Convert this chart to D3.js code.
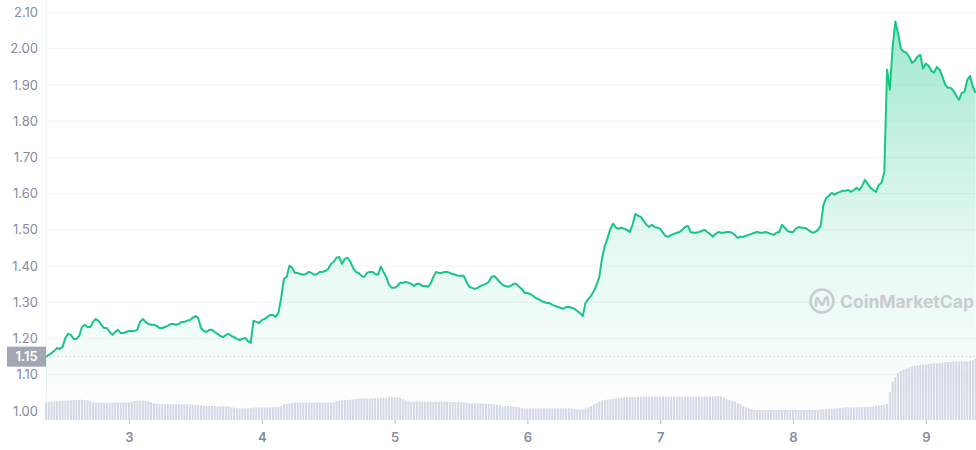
<!DOCTYPE html>
<html><head><meta charset="utf-8">
<script src="https://cdn.jsdelivr.net/npm/d3@7"></script>
<style>body{margin:0;background:#fff}svg{display:block;font-family:Inter,"Noto Sans",sans-serif}</style>
</head><body><svg id="c" width="976" height="450"></svg>
<script>
// ---- data ----
const startDay = 2.375;          // day-of-month of first sample
const stepDays = 0.5 / 24;       // 30-minute samples
const prices = [
1.149,1.155,1.160,1.166,1.174,1.171,1.177,1.202,1.213,1.210,
1.199,1.199,1.207,1.232,1.238,1.232,1.232,1.246,1.254,1.249,
1.238,1.229,1.229,1.218,1.210,1.218,1.224,1.215,1.215,1.218,
1.221,1.221,1.221,1.224,1.246,1.254,1.246,1.240,1.238,1.238,
1.235,1.229,1.229,1.232,1.235,1.240,1.240,1.238,1.240,1.246,
1.246,1.249,1.251,1.257,1.262,1.257,1.229,1.221,1.218,1.224,
1.224,1.218,1.213,1.207,1.204,1.210,1.213,1.207,1.204,1.199,
1.196,1.199,1.202,1.193,1.188,1.249,1.246,1.243,1.251,1.254,
1.260,1.265,1.265,1.260,1.271,1.312,1.365,1.370,1.401,1.395,
1.381,1.381,1.378,1.376,1.378,1.384,1.381,1.376,1.378,1.384,
1.384,1.387,1.392,1.406,1.412,1.423,1.425,1.406,1.420,1.423,
1.412,1.395,1.384,1.381,1.373,1.370,1.381,1.384,1.384,1.378,
1.376,1.398,1.384,1.370,1.348,1.340,1.340,1.345,1.354,1.354,
1.356,1.354,1.351,1.345,1.351,1.351,1.345,1.345,1.343,1.351,
1.370,1.384,1.381,1.381,1.384,1.384,1.381,1.378,1.376,1.373,
1.373,1.373,1.356,1.343,1.340,1.337,1.340,1.345,1.348,1.351,
1.356,1.370,1.373,1.365,1.356,1.348,1.345,1.343,1.345,1.351,
1.351,1.343,1.337,1.326,1.326,1.323,1.318,1.312,1.309,1.304,
1.301,1.298,1.298,1.293,1.290,1.287,1.285,1.282,1.287,1.287,
1.285,1.282,1.276,1.271,1.262,1.298,1.309,1.318,1.331,1.348,
1.370,1.423,1.456,1.478,1.503,1.517,1.506,1.503,1.506,1.503,
1.500,1.494,1.514,1.544,1.539,1.536,1.525,1.514,1.508,1.514,
1.508,1.506,1.503,1.492,1.483,1.481,1.486,1.489,1.492,1.494,
1.500,1.508,1.511,1.494,1.492,1.492,1.494,1.497,1.500,1.494,
1.489,1.481,1.489,1.494,1.492,1.492,1.494,1.494,1.492,1.486,
1.478,1.481,1.481,1.483,1.486,1.489,1.492,1.494,1.492,1.492,
1.494,1.492,1.489,1.486,1.492,1.494,1.514,1.506,1.497,1.494,
1.494,1.503,1.508,1.506,1.506,1.503,1.497,1.492,1.494,1.500,
1.511,1.569,1.588,1.594,1.602,1.597,1.602,1.605,1.608,1.608,
1.610,1.605,1.610,1.616,1.610,1.622,1.638,1.627,1.616,1.610,
1.605,1.624,1.630,1.660,1.942,1.887,2.003,2.075,2.041,2.000,
1.992,1.989,1.978,1.961,1.967,1.978,1.983,1.945,1.959,1.953,
1.939,1.934,1.950,1.942,1.923,1.901,1.892,1.892,1.884,1.870,
1.859,1.878,1.881,1.914,1.925,1.895,1.878
];
const volumes = [
53,54,55,56,56,57,58,58,59,59,
60,60,60,61,60,59,56,53,53,52,
52,52,51,52,52,52,52,51,52,52,
53,54,57,58,58,58,57,56,53,50,
49,48,48,47,48,48,47,47,47,47,
47,47,46,46,46,45,44,43,42,42,
42,42,41,41,41,41,40,38,37,36,
35,35,35,35,36,38,38,38,38,38,
38,38,38,39,39,42,47,48,50,51,
52,52,52,52,52,52,52,52,52,52,
52,52,52,52,53,56,58,59,60,60,
61,62,63,64,65,65,65,65,65,65,
65,66,66,67,68,68,68,68,67,63,
59,56,55,55,56,55,55,55,55,55,
54,55,55,55,55,55,54,54,54,54,
53,53,51,50,50,50,50,50,49,49,
48,48,47,45,44,42,42,42,41,41,
39,38,36,35,35,35,35,35,35,35,
35,35,35,35,35,35,35,35,35,35,
35,33,32,32,32,35,38,42,47,51,
56,59,60,61,62,63,65,66,67,68,
68,69,69,69,69,70,70,70,70,70,
70,70,70,70,70,70,70,70,70,70,
70,70,70,70,70,70,70,70,70,70,
71,71,71,72,71,68,63,60,57,55,
51,47,42,38,35,32,30,30,30,30,
30,30,30,30,30,30,30,30,30,30,
30,30,30,30,30,30,30,30,30,30,
31,32,32,33,34,35,35,36,37,38,
38,38,38,38,38,39,39,39,40,41,
42,44,45,45,48,84,114,129,141,147,
152,155,158,161,162,164,165,166,167,168,
169,170,170,171,172,173,174,174,175,175,
175,176,176,176,178,180,183
];
const yTicks = [1.00,1.10,1.20,1.30,1.40,1.50,1.60,1.70,1.80,1.90,2.00,2.10];
const xTicks = [3,4,5,6,7,8,9];
const refPrice = 1.15;

// ---- chart ----
const svg = d3.select("#c");
const L = 46, R = 976, T = 12.5, B = 411, VB = 420;
const x = d3.scaleLinear().domain([2.375, 9.378]).range([L, R]);
const y = d3.scaleLinear().domain([1.0, 2.1]).range([B, T]);
const v = d3.scaleLinear().domain([0, 300]).range([VB, VB - 100]);

const pts = prices.map((p, i) => ({t: startDay + i * stepDays, p}));
const vols = volumes.map((val, i) => ({t: startDay + i * stepDays, v: val}));

const defs = svg.append("defs");
const g1 = defs.append("linearGradient").attr("id", "ag")
  .attr("gradientUnits", "userSpaceOnUse").attr("x1", 0).attr("x2", 0).attr("y1", T).attr("y2", VB);
g1.append("stop").attr("offset", 0).attr("stop-color", "#16c784").attr("stop-opacity", 0.42);
g1.append("stop").attr("offset", 0.55).attr("stop-color", "#16c784").attr("stop-opacity", 0.12);
g1.append("stop").attr("offset", 1).attr("stop-color", "#16c784").attr("stop-opacity", 0.0);

// grid
svg.append("g").selectAll("line").data(yTicks).join("line")
  .attr("x1", L).attr("x2", R).attr("y1", d => y(d)).attr("y2", d => y(d))
  .attr("stroke", "#f1f3f6").attr("stroke-width", 1);
svg.append("line").attr("x1", L + 0.5).attr("x2", L + 0.5).attr("y1", 0).attr("y2", VB)
  .attr("stroke", "#f1f3f6");

// area
svg.append("path").datum(pts)
  .attr("d", d3.area().x(d => x(d.t)).y0(VB).y1(d => y(d.p)))
  .attr("fill", "url(#ag)");

// watermark
const wm = svg.append("g").attr("transform", "translate(822,301)").attr("opacity", 1);
wm.append("circle").attr("r", 11.5).attr("fill", "none").attr("stroke", "#c9ccd2").attr("stroke-width", 2.6);
wm.append("path").attr("d", "M-6,5 L-6,-1 Q-5,-5 -3,-1 L-1,3 Q0,5 1,3 L3,-2 Q5,-6 6,-1 L6,4")
  .attr("fill", "none").attr("stroke", "#c9ccd2").attr("stroke-width", 2.4).attr("stroke-linecap", "round").attr("stroke-linejoin", "round");
svg.append("text").attr("x", 840).attr("y", 308).text("CoinMarketCap")
  .attr("fill", "#c9ccd2").attr("font-size", 17.5).attr("font-weight", 700);

// volume bars
svg.append("g").selectAll("rect").data(vols).join("rect")
  .attr("x", d => x(d.t) - 1).attr("width", 2)
  .attr("y", d => v(d.v)).attr("height", d => VB - v(d.v))
  .attr("fill", "#d3d8e5");

// reference dotted line
svg.append("line").attr("x1", L).attr("x2", R).attr("y1", y(refPrice)).attr("y2", y(refPrice))
  .attr("stroke", "#b9bec8").attr("stroke-width", 1).attr("stroke-dasharray", "1,3");

// price line
svg.append("path").datum(pts)
  .attr("d", d3.line().x(d => x(d.t)).y(d => y(d.p)))
  .attr("fill", "none").attr("stroke", "#16c784").attr("stroke-width", 2)
  .attr("stroke-linejoin", "round");

// y axis labels
svg.append("g").selectAll("text").data(yTicks).join("text")
  .attr("x", 38).attr("y", d => y(d)).attr("dy", "0.35em").attr("text-anchor", "end")
  .attr("font-size", 13).attr("fill", "#858ca2").text(d => d3.format(".2f")(d));

// ref label box
const rb = svg.append("g");
rb.append("rect").attr("x", 7).attr("y", y(refPrice) - 10).attr("width", 39).attr("height", 20)
  .attr("fill", "#a2a7b3");
rb.append("text").attr("x", 26.5).attr("y", y(refPrice)).attr("dy", "0.35em").attr("text-anchor", "middle")
  .attr("font-size", 13).attr("font-weight", 600).attr("fill", "#fff").text(d3.format(".2f")(refPrice));

// x axis
const xa = svg.append("g").attr("transform", `translate(0,${VB})`)
  .call(d3.axisBottom(x).tickValues(xTicks).tickFormat(d3.format("d")).tickSize(4).tickPadding(9));
xa.select(".domain").remove();
xa.selectAll("line").attr("stroke", "#b8bdc8");
xa.selectAll("text").attr("font-size", 13).attr("font-weight", 600).attr("fill", "#858ca2")
  .attr("font-family", "Inter, 'Noto Sans', sans-serif");
</script></body></html>
